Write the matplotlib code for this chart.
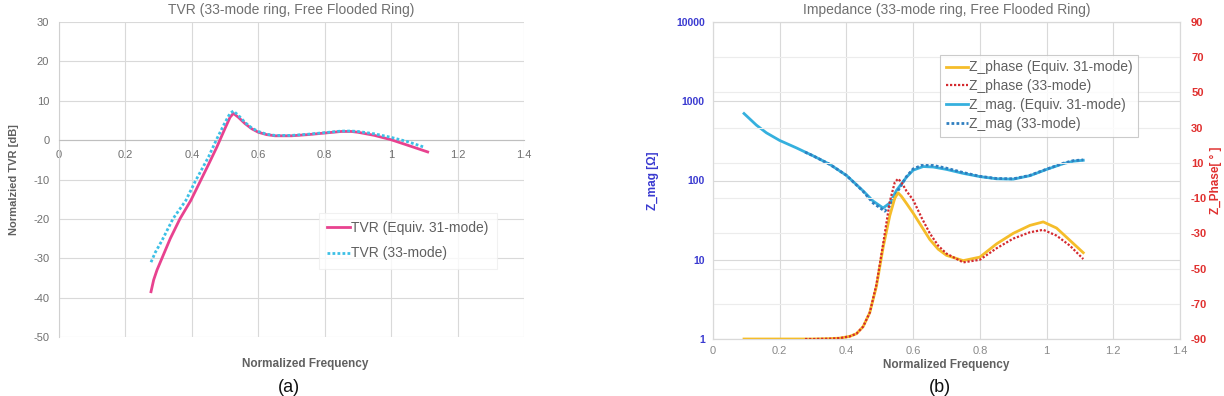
import matplotlib
matplotlib.use("Agg")
import matplotlib.pyplot as plt

plt.rcParams['font.family'] = ['Liberation Sans', 'DejaVu Sans']
plt.rcParams['axes.unicode_minus'] = False

# ---------------- data (a) TVR ----------------
tvr_freq_31 = [0.277, 0.285, 0.295, 0.31, 0.335, 0.364, 0.397, 0.425, 0.45, 0.475, 0.50,
               0.515, 0.525, 0.54, 0.56, 0.58, 0.60, 0.625, 0.65, 0.70, 0.75, 0.80, 0.85,
               0.88, 0.90, 0.95, 1.00, 1.05, 1.11]
tvr_31 = [-38.5, -35.5, -33, -30, -25, -20, -15.3, -10.5, -6.2, -1.8, 3,
          5.8, 6.8, 5.8, 4.2, 2.9, 2.0, 1.4, 1.1, 1.1, 1.4, 1.8, 2.2,
          2.2, 2.0, 1.2, 0.1, -1.3, -3.0]
tvr_freq_33 = [0.277, 0.29, 0.31, 0.343, 0.382, 0.41, 0.45, 0.475, 0.50,
               0.515, 0.525, 0.54, 0.56, 0.58, 0.60, 0.625, 0.65, 0.70, 0.75, 0.80, 0.85,
               0.88, 0.90, 0.95, 1.00, 1.05, 1.10]
tvr_33 = [-31, -28.5, -25.5, -20, -15.3, -10.5, -4.3, 0.3, 4.5,
          6.8, 7.4, 6.3, 4.5, 3.1, 2.2, 1.5, 1.2, 1.2, 1.5, 1.9, 2.3,
          2.3, 2.2, 1.6, 0.7, -0.4, -1.8]

# ---------------- data (b) Impedance ----------------
zmag_freq_31 = [0.093, 0.11, 0.13, 0.16, 0.2, 0.25, 0.3, 0.35, 0.4, 0.45, 0.48, 0.51, 0.53, 0.55,
                0.58, 0.6, 0.63, 0.66, 0.7, 0.75, 0.8, 0.85, 0.9, 0.95, 1.0, 1.05, 1.08, 1.11]
zmag_31 = [700, 600, 500, 400, 320, 258, 205, 160, 116, 74, 55, 45, 52, 75,
           110, 135, 150, 148, 138, 123, 112, 105, 104, 115, 138, 163, 175, 180]
zmag_freq_33 = [0.276, 0.3, 0.35, 0.4, 0.45, 0.48, 0.515, 0.535, 0.555, 0.58, 0.6, 0.63,
                0.66, 0.7, 0.75, 0.8, 0.85, 0.9, 0.95, 1.0, 1.05, 1.08, 1.11]
zmag_33 = [228, 205, 160, 116, 73, 52, 41, 50, 75, 112, 140, 158,
           155, 143, 126, 113, 106, 105, 116, 139, 165, 178, 182]

zph_freq_31 = [0.093, 0.2, 0.3, 0.35, 0.38, 0.41, 0.43, 0.45, 0.47, 0.49, 0.51, 0.53, 0.545,
               0.555, 0.565, 0.58, 0.6, 0.625, 0.65, 0.675, 0.7, 0.75, 0.8, 0.85, 0.9, 0.95,
               0.99, 1.03, 1.07, 1.11]
zph_31 = [-90, -90, -90, -89.8, -89.5, -88.5, -87, -83, -75, -60, -38, -20, -10,
          -7, -9, -13, -18.5, -26, -33.5, -39, -42.5, -45.5, -43.5, -36, -30, -25.5,
          -23.5, -27, -34, -41]
zph_freq_33 = [0.276, 0.3, 0.35, 0.38, 0.41, 0.43, 0.45, 0.47, 0.49, 0.51, 0.53, 0.545,
               0.555, 0.565, 0.58, 0.6, 0.625, 0.65, 0.675, 0.7, 0.75, 0.8, 0.85, 0.9,
               0.95, 0.99, 1.03, 1.07, 1.11]
zph_33 = [-90, -90, -89.8, -89.5, -88.5, -87, -83, -75, -59, -36, -12, -1,
          1, -1, -6, -11, -21, -30, -37, -41.5, -46.5, -45, -38.5, -33,
          -29.4, -28, -31.3, -37, -44.6]

x_ticks = [0, 0.2, 0.4, 0.6, 0.8, 1, 1.2, 1.4]
x_tick_labels = ['0', '0.2', '0.4', '0.6', '0.8', '1', '1.2', '1.4']
tvr_ticks = [-50, -40, -30, -20, -10, 0, 10, 20, 30]
mag_ticks = [1, 10, 100, 1000, 10000]
mag_tick_labels = ['1', '10', '100', '1000', '10000']
phase_ticks = [-90, -70, -50, -30, -10, 10, 30, 50, 70, 90]

GRID = '#d9d9d9'
PINK = '#e8428f'
CYAN_DOT = '#3cc0e6'
ORANGE = '#f5bd2a'
RED = '#d42a2f'
ZCYAN = '#35b0de'
ZBLUE = '#2f7fc0'
BLUE_TXT = '#3a3ad0'
RED_TXT = '#e0302f'
DOT = (0, (1, 0.8))

W, H = 1224, 396
fig = plt.figure(figsize=(W / 100, H / 100), dpi=100)

def fx(px):
    return px / W

def fy(py):
    return 1 - py / H

# ---------------- (a) ----------------
axa = fig.add_axes([fx(59), fy(337), fx(524 - 59), (337 - 22) / H])
axa.plot(tvr_freq_31, tvr_31, color=PINK, lw=2.0, label='TVR (Equiv. 31-mode)', zorder=3)
axa.plot(tvr_freq_33, tvr_33, color=CYAN_DOT, lw=2.0, ls=DOT, label='TVR (33-mode)', zorder=4)
axa.set_xlim(0, 1.4)
axa.set_ylim(-50, 30)
axa.set_xticks(x_ticks)
axa.set_xticklabels(x_tick_labels)
axa.set_yticks(tvr_ticks)
axa.grid(True, color=GRID, lw=0.8)
axa.set_axisbelow(True)
for s in ['top', 'right']:
    axa.spines[s].set_visible(False)
axa.spines['bottom'].set_position(('data', 0))
axa.spines['bottom'].set_color('#bfbfbf')
axa.spines['left'].set_color('#d0d0d0')
axa.tick_params(length=0, labelsize=8, labelcolor='#707070', pad=7)
axa.set_title('TVR (33-mode ring, Free Flooded Ring)', fontsize=10, color='#707070', pad=6)
axa.set_ylabel('Normalzied TVR [dB]', fontsize=8, color='#606060', fontweight='bold', labelpad=10)
fig.text(fx(305), fy(364), 'Normalized Frequency', fontsize=8.5, color='#606060',
         fontweight='bold', ha='center', va='center')
leg_a = axa.legend(loc='upper left', bbox_to_anchor=(fx(312), fy(206)), bbox_transform=fig.transFigure,
                   fontsize=10, frameon=True, fancybox=False, edgecolor='#eeeeee',
                   handlelength=1.6, handletextpad=0.1, borderpad=0.6, labelspacing=0.8,
                   labelcolor='#606060')
leg_a.get_frame().set_linewidth(0.8)

# ---------------- (b) ----------------
axb = fig.add_axes([fx(713), fy(339), fx(1180 - 713), (339 - 22) / H])
axp = axb.twinx()
l3, = axb.plot(zmag_freq_31, zmag_31, color=ZCYAN, lw=2.0, label='Z_mag. (Equiv. 31-mode)', zorder=3)
l4, = axb.plot(zmag_freq_33, zmag_33, color=ZBLUE, lw=2.0, ls=DOT, label='Z_mag (33-mode)', zorder=4)
l1, = axp.plot(zph_freq_31, zph_31, color=ORANGE, lw=2.0, label='Z_phase (Equiv. 31-mode)', zorder=3)
l2, = axp.plot(zph_freq_33, zph_33, color=RED, lw=1.6, ls=DOT, label='Z_phase (33-mode)', zorder=4)
axb.set_yscale('log')
axb.set_ylim(1, 10000)
axb.set_xlim(0, 1.4)
axb.set_xticks(x_ticks)
axb.set_xticklabels(x_tick_labels)
axb.set_yticks(mag_ticks)
axb.set_yticklabels(mag_tick_labels)
axb.minorticks_off()
axp.set_ylim(-90, 90)
axp.set_yticks(phase_ticks)
axb.grid(True, color=GRID, lw=0.8)
axp.grid(True, axis='y', color='#ececec', lw=0.8)
axb.set_axisbelow(True)
axp.set_axisbelow(True)
for a in (axb, axp):
    for s in ['top', 'right', 'left', 'bottom']:
        a.spines[s].set_color('#d9d9d9')
axb.tick_params(axis='x', length=0, labelsize=8, labelcolor='#8a8a8a', pad=5)
axb.tick_params(axis='y', length=0, labelsize=7.5, labelcolor=BLUE_TXT, pad=6)
axp.tick_params(axis='y', length=0, labelsize=8, labelcolor=RED_TXT, pad=8)
for t in axb.get_yticklabels():
    t.set_fontweight('bold')
for t in axp.get_yticklabels():
    t.set_fontweight('bold')
axb.set_title('Impedance (33-mode ring, Free Flooded Ring)', fontsize=10, color='#707070', pad=6)
axb.set_ylabel('Z_mag [Ω]', fontsize=8.5, color=BLUE_TXT, fontweight='bold', labelpad=12)
axp.set_ylabel('Z_Phase[ ° ]', fontsize=8.5, color=RED_TXT, fontweight='bold', labelpad=2)
axb.set_xlabel('Normalized Frequency', fontsize=8.5, color='#606060', fontweight='bold', labelpad=2)
axp.set_zorder(axb.get_zorder() + 1)
axb.patch.set_visible(True)
axp.patch.set_visible(False)
leg_b = axp.legend(handles=[l1, l2, l3, l4], loc='upper left',
                   bbox_to_anchor=(fx(933), fy(48)), bbox_transform=fig.transFigure,
                   fontsize=10, frameon=True, fancybox=False, edgecolor='#bfbfbf',
                   handlelength=1.6, handletextpad=0.1, borderpad=0.4, labelspacing=0.35,
                   labelcolor='#606060')
leg_b.get_frame().set_linewidth(0.8)

fig.text(fx(289), fy(379), '(a)', fontsize=13, ha='center', va='top', color='#111111')
fig.text(fx(940), fy(379), '(b)', fontsize=13, ha='center', va='top', color='#111111')

fig.savefig('out.png', dpi=100, facecolor='white')
